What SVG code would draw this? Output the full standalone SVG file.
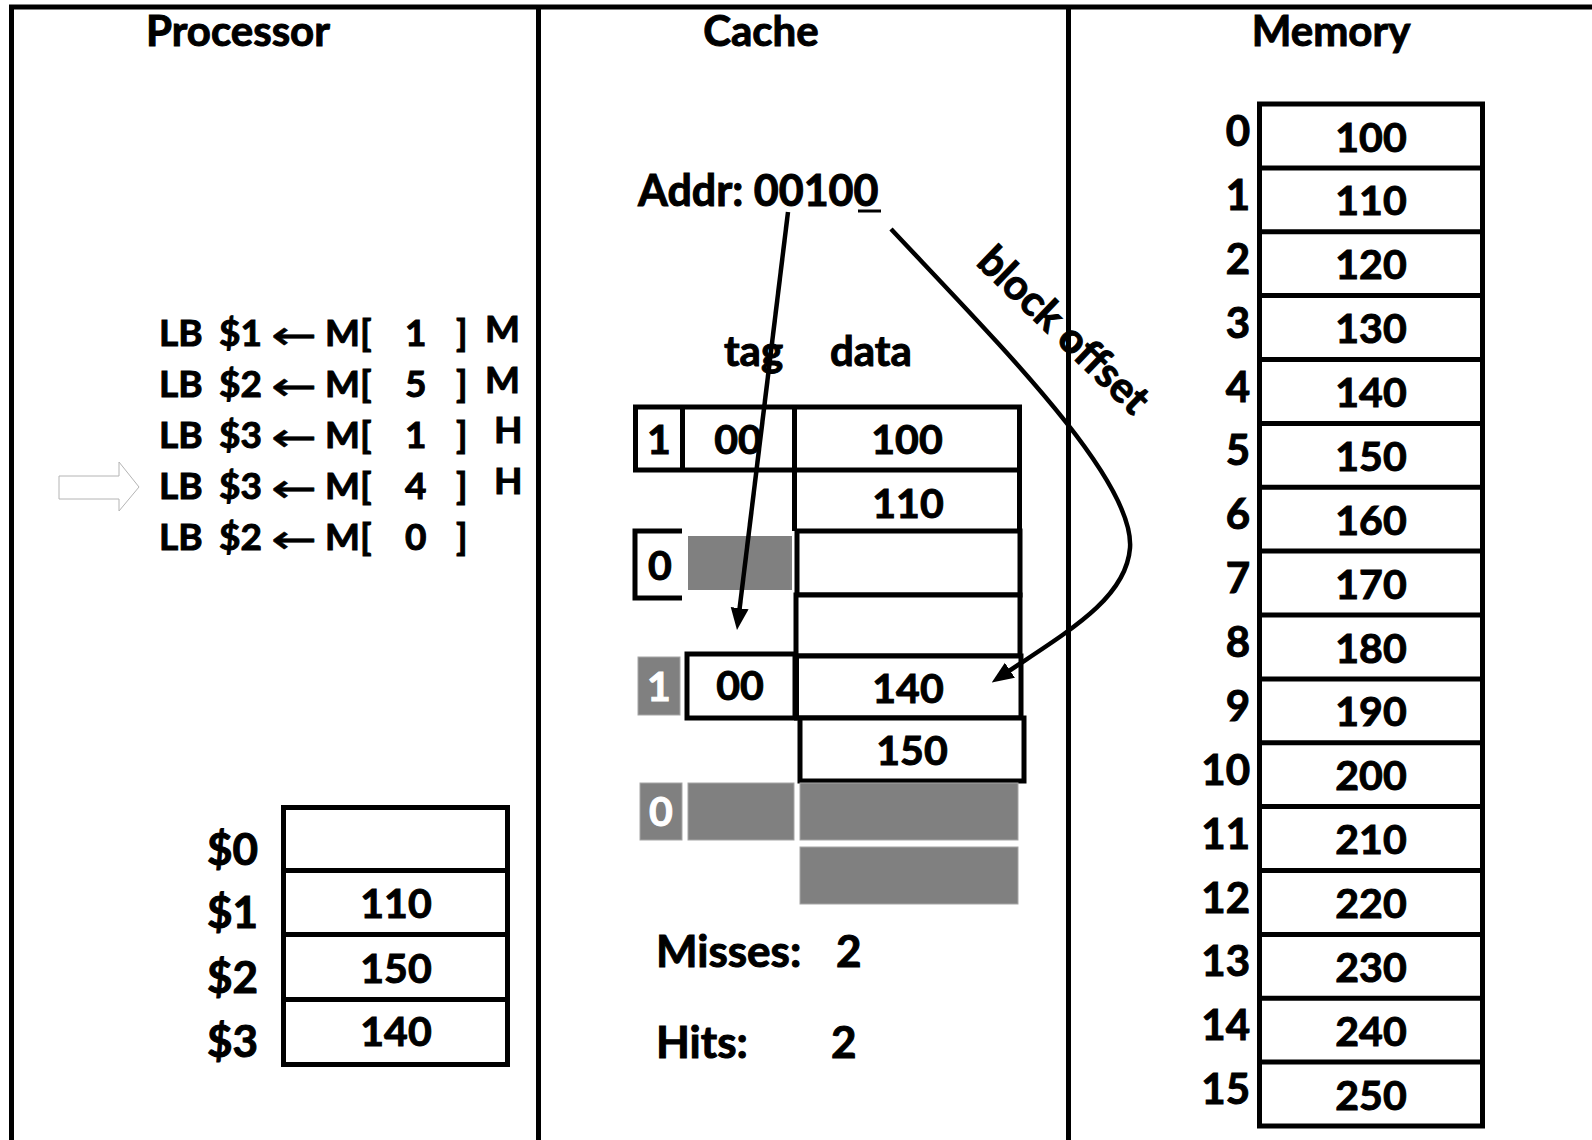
<svg xmlns="http://www.w3.org/2000/svg" width="1592" height="1140" viewBox="0 0 1592 1140">
<defs>
<style>
.t{font-family:Lato,"Liberation Sans",sans-serif;font-weight:700;fill:#000;stroke:#000;stroke-width:1}
.h{font-size:42px;text-anchor:middle}
.ins{font-size:37px}
.arr{font-family:"DejaVu Sans",sans-serif;font-weight:400;font-size:40px;fill:#000;stroke:#000;stroke-width:0.6}
.c{font-size:41px;text-anchor:middle}
.wt{fill:#fff;stroke:#fff}
.box{fill:#fff;stroke:#000;stroke-width:5}
.ln{fill:none;stroke:#000;stroke-width:5}
.gray{fill:#808080;stroke:#a6a6a6;stroke-width:1}
.conn{fill:none;stroke:#000;stroke-width:4.5}
.mv{font-size:41px;text-anchor:middle}
.mi{font-size:42px;text-anchor:end}
</style>
<marker id="ah" markerUnits="userSpaceOnUse" markerWidth="24" markerHeight="20" refX="12" refY="9" orient="auto">
<path d="M0,0 L22,9 L0,18 z" fill="#000"/>
</marker>
</defs>
<rect width="1592" height="1140" fill="#fff"/>
<g id="frame">
<line x1="9" y1="7" x2="1592" y2="7" class="ln"/>
<line x1="11.5" y1="5" x2="11.5" y2="1140" class="ln"/>
<line x1="538.5" y1="7" x2="538.5" y2="1140" class="ln"/>
<line x1="1068.5" y1="7" x2="1068.5" y2="1140" class="ln"/>
<text class="t h" x="238" y="46">Processor</text>
<text class="t h" x="761" y="46">Cache</text>
<text class="t h" x="1331" y="46">Memory</text>
</g>
<g id="instructions">
<polygon points="59,476 119,476 119,462 139,487 119,511 119,499 59,499" fill="#fff" stroke="#b4b4b4" stroke-width="1"/>
<text class="t ins" y="346"><tspan x="159">LB</tspan><tspan x="219">$1</tspan><tspan x="325">M[</tspan><tspan x="405">1</tspan><tspan x="456">]</tspan></text>
<text class="arr" x="271" y="349" textLength="46" lengthAdjust="spacingAndGlyphs">←</text>
<text class="t ins" y="397"><tspan x="159">LB</tspan><tspan x="219">$2</tspan><tspan x="325">M[</tspan><tspan x="405">5</tspan><tspan x="456">]</tspan></text>
<text class="arr" x="271" y="400" textLength="46" lengthAdjust="spacingAndGlyphs">←</text>
<text class="t ins" y="448"><tspan x="159">LB</tspan><tspan x="219">$3</tspan><tspan x="325">M[</tspan><tspan x="405">1</tspan><tspan x="456">]</tspan></text>
<text class="arr" x="271" y="451" textLength="46" lengthAdjust="spacingAndGlyphs">←</text>
<text class="t ins" y="499"><tspan x="159">LB</tspan><tspan x="219">$3</tspan><tspan x="325">M[</tspan><tspan x="405">4</tspan><tspan x="456">]</tspan></text>
<text class="arr" x="271" y="502" textLength="46" lengthAdjust="spacingAndGlyphs">←</text>
<text class="t ins" y="550"><tspan x="159">LB</tspan><tspan x="219">$2</tspan><tspan x="325">M[</tspan><tspan x="405">0</tspan><tspan x="456">]</tspan></text>
<text class="arr" x="271" y="553" textLength="46" lengthAdjust="spacingAndGlyphs">←</text>
<text class="t ins" x="485" y="342">M</text>
<text class="t ins" x="485" y="393">M</text>
<text class="t ins" x="494" y="443">H</text>
<text class="t ins" x="494" y="494">H</text>
</g>
<g id="registers">
<rect class="box" x="283.5" y="807.5" width="224" height="257"/>
<line class="ln" x1="283.5" y1="870.5" x2="507.5" y2="870.5"/>
<line class="ln" x1="283.5" y1="934.5" x2="507.5" y2="934.5"/>
<line class="ln" x1="283.5" y1="999.5" x2="507.5" y2="999.5"/>
<text class="t" font-size="44" x="207" y="865">$0</text>
<text class="t" font-size="44" x="207" y="928">$1</text>
<text class="t" font-size="44" x="207" y="993">$2</text>
<text class="t" font-size="44" x="207" y="1057">$3</text>
<text class="t c" x="396" y="918">110</text>
<text class="t c" x="396" y="983">150</text>
<text class="t c" x="396" y="1046">140</text>
</g>
<g id="cache">
<text class="t" font-size="43" x="638" y="206">Addr: 00100</text>
<line x1="858" y1="211" x2="881" y2="211" stroke="#000" stroke-width="3"/>
<text class="t" font-size="42" x="724" y="366">tag</text>
<text class="t" font-size="42" x="830" y="366">data</text>
<g id="rowA">
<rect class="box" x="635.5" y="407" width="384" height="63"/>
<line class="ln" x1="682.5" y1="407" x2="682.5" y2="470"/>
<line class="ln" x1="794.5" y1="407" x2="794.5" y2="470"/>
<text class="t c" x="659" y="454">1</text>
<text class="t c" x="738" y="454">00</text>
<text class="t c" x="907" y="454">100</text>
<path class="ln" d="M794.5 470 V531 M1019.5 470 V531"/>
<text class="t c" x="908" y="518">110</text>
</g>
<g id="rowB">
<path class="ln" d="M682 531 H635 V598 H682"/>
<text class="t c" x="660" y="580">0</text>
<rect x="686" y="534" width="108" height="58" fill="#808080" stroke="#fff" stroke-width="4"/>
<rect class="box" x="797" y="531" width="223" height="64"/>
<rect class="box" x="796" y="595" width="224" height="61"/>
</g>
<g id="rowC">
<rect class="gray" x="638" y="657" width="42" height="58"/>
<text class="t c wt" x="659" y="701">1</text>
<rect class="box" x="687" y="654" width="108" height="64"/>
<text class="t c" x="740" y="700">00</text>
<rect class="box" x="796.5" y="656" width="224.5" height="62"/>
<text class="t c" x="908" y="703">140</text>
<rect class="box" x="800" y="718" width="224" height="63"/>
<text class="t c" x="912" y="765">150</text>
</g>
<g id="rowD">
<rect class="gray" x="640" y="783" width="42" height="57"/>
<text class="t c wt" x="661" y="826">0</text>
<rect class="gray" x="688" y="783" width="106" height="57"/>
<rect class="gray" x="800" y="783" width="218" height="57"/>
<rect class="gray" x="800" y="847" width="218" height="57"/>
</g>
<text class="t" font-size="44" x="656" y="967">Misses:</text>
<text class="t" font-size="44" x="836" y="967">2</text>
<text class="t" font-size="44" x="656" y="1058">Hits:</text>
<text class="t" font-size="44" x="831" y="1058">2</text>
</g>
<g id="connectors">
<line class="conn" x1="788" y1="212" x2="738.2" y2="620.1" marker-end="url(#ah)"/>
<path class="conn" d="M891 229 C1000 345, 1135 480, 1130 548 C1126 600, 1065 633, 1000 677" marker-end="url(#ah)"/>
<text class="t" font-size="42" text-anchor="middle" transform="translate(1063,331) rotate(44)" y="13">block offset</text>
</g>
<g id="memory">
<rect class="box" x="1259.5" y="104" width="223" height="1022"/>
<path class="ln" d="M1259.5 167.9H1482.5M1259.5 231.75H1482.5M1259.5 295.6H1482.5M1259.5 359.5H1482.5M1259.5 423.4H1482.5M1259.5 487.25H1482.5M1259.5 551.1H1482.5M1259.5 615H1482.5M1259.5 678.9H1482.5M1259.5 742.75H1482.5M1259.5 806.6H1482.5M1259.5 870.5H1482.5M1259.5 934.4H1482.5M1259.5 998.25H1482.5M1259.5 1062.1H1482.5"/>
<text class="t mv" x="1371" y="151.5">100</text>
<text class="t mv" x="1371" y="215.4">110</text>
<text class="t mv" x="1371" y="279.3">120</text>
<text class="t mv" x="1371" y="343.1">130</text>
<text class="t mv" x="1371" y="407">140</text>
<text class="t mv" x="1371" y="470.9">150</text>
<text class="t mv" x="1371" y="534.8">160</text>
<text class="t mv" x="1371" y="598.6">170</text>
<text class="t mv" x="1371" y="662.5">180</text>
<text class="t mv" x="1371" y="726.4">190</text>
<text class="t mv" x="1371" y="790.3">200</text>
<text class="t mv" x="1371" y="854.1">210</text>
<text class="t mv" x="1371" y="918">220</text>
<text class="t mv" x="1371" y="981.9">230</text>
<text class="t mv" x="1371" y="1045.8">240</text>
<text class="t mv" x="1371" y="1109.6">250</text>
<text class="t mi" x="1250" y="146">0</text>
<text class="t mi" x="1250" y="209.9">1</text>
<text class="t mi" x="1250" y="273.8">2</text>
<text class="t mi" x="1250" y="337.6">3</text>
<text class="t mi" x="1250" y="401.5">4</text>
<text class="t mi" x="1250" y="465.4">5</text>
<text class="t mi" x="1250" y="529.3">6</text>
<text class="t mi" x="1250" y="593.1">7</text>
<text class="t mi" x="1250" y="657">8</text>
<text class="t mi" x="1250" y="720.9">9</text>
<text class="t mi" x="1250" y="784.8">10</text>
<text class="t mi" x="1250" y="848.6">11</text>
<text class="t mi" x="1250" y="912.5">12</text>
<text class="t mi" x="1250" y="976.4">13</text>
<text class="t mi" x="1250" y="1040.3">14</text>
<text class="t mi" x="1250" y="1104.1">15</text>
</g>
</svg>
